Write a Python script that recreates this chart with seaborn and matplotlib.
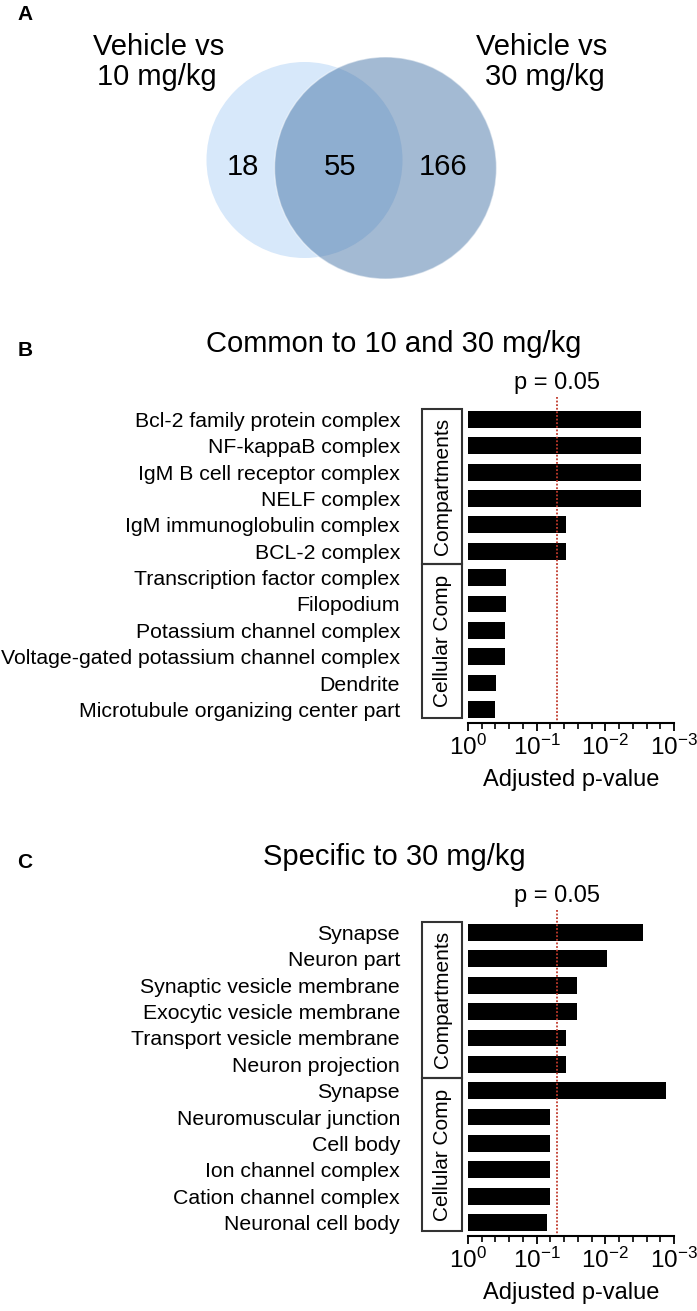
import numpy as np
import pandas as pd
import matplotlib
matplotlib.use('Agg')
import matplotlib.pyplot as plt
from matplotlib.patches import Circle, Rectangle
import matplotlib.transforms as mtransforms
import seaborn as sns

# Venn counts
only_10 = 18
both = 55
only_30 = 166

# Panel B: common to 10 and 30 mg/kg
b_terms = ['Bcl-2 family protein complex', 'NF-kappaB complex', 'IgM B cell receptor complex',
           'NELF complex', 'IgM immunoglobulin complex', 'BCL-2 complex',
           'Transcription factor complex', 'Filopodium', 'Potassium channel complex',
           'Voltage-gated potassium channel complex', 'Dendrite', 'Microtubule organizing center part']
b_pvals = [0.0030, 0.0030, 0.0030, 0.0030, 0.037, 0.038,
           0.275, 0.275, 0.293, 0.293, 0.39, 0.405]

# Panel C: specific to 30 mg/kg
c_terms = ['Synapse', 'Neuron part', 'Synaptic vesicle membrane', 'Exocytic vesicle membrane',
           'Transport vesicle membrane', 'Neuron projection', 'Synapse', 'Neuromuscular junction',
           'Cell body', 'Ion channel complex', 'Cation channel complex', 'Neuronal cell body']
c_pvals = [0.00285, 0.0095, 0.0256, 0.0256, 0.038, 0.038,
           0.0013, 0.063, 0.063, 0.063, 0.063, 0.0698]

group_names = ['Compartments', 'Cellular Comp']
group_sizes = [6, 6]
threshold = 0.05
tick_labels = [r'$\mathregular{10^{0}}$', r'$\mathregular{10^{-1}}$',
               r'$\mathregular{10^{-2}}$', r'$\mathregular{10^{-3}}$']

sns.set_style('white')
plt.rcParams['font.family'] = ['Liberation Sans', 'DejaVu Sans']
plt.rcParams['mathtext.fontset'] = 'custom'
plt.rcParams['mathtext.rm'] = 'Liberation Sans'
for k in ['text.color', 'axes.labelcolor', 'xtick.color', 'ytick.color']:
    plt.rcParams[k] = 'black'

W, H = 697, 1311
fig = plt.figure(figsize=(W / 100, H / 100), dpi=100)


def fx(px):
    return px / W


def fy(py):
    return 1 - py / H


# ---- Panel A: Venn ----
ax0 = fig.add_axes([0, fy(300), 1, 300 / H])
ax0.set_xlim(0, W)
ax0.set_ylim(300, 0)
ax0.axis('off')
ax0.add_patch(Circle((304.5, 160), 98, facecolor='#d7e8fa', edgecolor='none'))
ax0.add_patch(Circle((385.5, 168), 111, facecolor='#3f6fa3', alpha=0.48,
                     edgecolor='white', linewidth=1))
venn_font = 21
ax0.text(159, 55, 'Vehicle vs', ha='center', va='baseline', fontsize=venn_font)
ax0.text(157, 85, '10 mg/kg', ha='center', va='baseline', fontsize=venn_font)
ax0.text(542, 55, 'Vehicle vs', ha='center', va='baseline', fontsize=venn_font)
ax0.text(545, 85, '30 mg/kg', ha='center', va='baseline', fontsize=venn_font)
ax0.text(243, 175, str(only_10), ha='center', va='baseline', fontsize=venn_font)
ax0.text(340, 175, str(both), ha='center', va='baseline', fontsize=venn_font)
ax0.text(443, 175, str(only_30), ha='center', va='baseline', fontsize=venn_font)
fig.text(fx(25), fy(14), 'A', ha='center', va='center', fontsize=15, fontweight='bold')


def draw_panel(top_px, bottom_px, terms, pvals, title, title_base, letter, letter_y):
    ax = fig.add_axes([fx(468), fy(bottom_px), fx(674) - fx(468), (bottom_px - top_px) / H])
    df = pd.DataFrame({'pos': list(range(len(terms))), 'score': -np.log10(pvals)})
    sns.barplot(data=df, x='score', y='pos', orient='h', color='black', width=0.64,
                linewidth=0, errorbar=None, saturation=1, ax=ax)
    ax.set_xlim(0, 3)
    ax.set_ylim(len(terms) - 0.5, -0.5)
    ax.set_xticks([0, 1, 2, 3])
    ax.set_xticklabels(tick_labels)
    ax.set_xticks(np.arange(0, 3.01, 0.2), minor=True)
    ax.set_yticks(range(len(terms)))
    ax.set_yticklabels(terms, fontsize=15.3)
    ax.tick_params(axis='y', length=0, pad=49)
    ax.tick_params(axis='x', which='major', length=6, width=1.3, labelsize=17.5, pad=3,
                   bottom=True, color='black')
    ax.tick_params(axis='x', which='minor', length=4, width=1.2, bottom=True, color='black')
    sns.despine(ax=ax, left=True)
    ax.spines['bottom'].set_linewidth(1.5)
    ax.spines['bottom'].set_color('black')
    ax.set_xlabel('Adjusted p-value', fontsize=17, labelpad=6)
    ax.set_ylabel('')

    # threshold line
    thr = -np.log10(threshold)
    ax.plot([thr, thr], [-0.85, len(terms) - 0.5], linestyle=(0, (1, 1)), color='#c0392b',
            linewidth=1.3, clip_on=False)
    ax.text(thr, -1.156, 'p = %.2f' % threshold, ha='center', va='baseline', fontsize=17)

    # group boxes
    trans = mtransforms.blended_transform_factory(ax.transAxes, ax.transData)
    bx0 = (422 - 468) / 206
    bw = 40 / 206
    start = 0
    edges = [-0.40]
    for i, size in enumerate(group_sizes):
        end = start + size
        y0 = edges[-1]
        y1 = end - 0.5 if i < len(group_sizes) - 1 else len(terms) - 0.66
        ax.add_patch(Rectangle((bx0, y0), bw, y1 - y0, transform=trans, fill=False,
                               edgecolor='#333333', linewidth=1.5, clip_on=False))
        ax.text(bx0 + bw / 2, (y0 + y1) / 2, group_names[i], transform=trans, rotation=90,
                ha='center', va='center', fontsize=15)
        edges.append(y1)
        start = end

    fig.text(fx(394), fy(title_base), title, ha='center', va='baseline', fontsize=21)
    fig.text(fx(25), fy(letter_y), letter, ha='center', va='center', fontsize=15,
             fontweight='bold')
    return ax


draw_panel(406.3, 722.6, b_terms, b_pvals, 'Common to 10 and 30 mg/kg', 352, 'B', 350)
draw_panel(919.3, 1235.7, c_terms, c_pvals, 'Specific to 30 mg/kg', 865, 'C', 863)

fig.savefig('out.png', dpi=100)
